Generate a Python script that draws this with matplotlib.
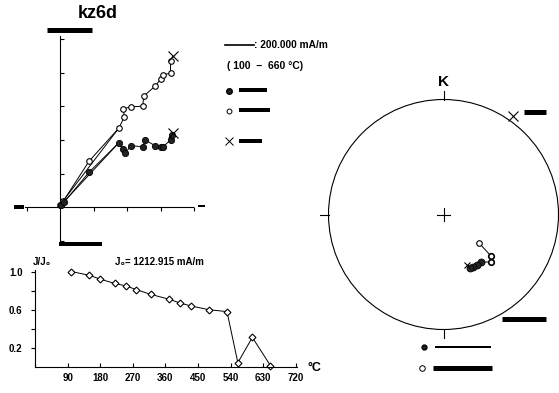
import numpy as np
import matplotlib
matplotlib.use('Agg')
import matplotlib.pyplot as plt
from matplotlib.lines import Line2D
from matplotlib.patches import Circle

plt.rcParams['font.family'] = ['Liberation Sans', 'DejaVu Sans']
plt.rcParams['font.weight'] = 'bold'

# Zijderveld diagram (units = one tick step)
zij_filled_x = [0.02, 0.12, 0.87, 1.75, 1.89, 1.94, 2.12, 2.47, 2.54, 2.84, 3.01, 3.08, 3.30, 3.33]
zij_filled_y = [0.05, 0.14, 1.04, 1.91, 1.72, 1.60, 1.83, 1.80, 2.00, 1.83, 1.80, 1.80, 2.00, 2.15]
zij_open_x = [0.00, 0.10, 0.87, 1.76, 1.92, 1.89, 2.12, 2.47, 2.50, 2.84, 3.01, 3.08, 3.30, 3.30]
zij_open_y = [0.06, 0.18, 1.37, 2.36, 2.69, 2.93, 2.99, 3.01, 3.31, 3.61, 3.82, 3.94, 4.00, 4.36]
zij_end_filled = (3.37, 2.22)
zij_end_open = (3.36, 4.50)

# demagnetisation curve
temps = [100, 150, 180, 220, 250, 280, 320, 370, 400, 430, 480, 530, 560, 600, 650]
j_ratio = [1.00, 0.96, 0.92, 0.875, 0.85, 0.81, 0.76, 0.71, 0.67, 0.64, 0.60, 0.58, 0.045, 0.31, 0.015]
temp_ticks = [0, 90, 180, 270, 360, 450, 540, 630, 720]
temp_labels = ['', '90', '180', '270', '360', '450', '540', '630', '720']
j_ticks = [0.2, 0.4, 0.6, 0.8, 1.0]
j_labels = ['0.2', '', '0.6', '', '1.0']

# stereonet (unit circle coordinates)
st_x = [0.309, 0.413, 0.413, 0.326, 0.291, 0.257, 0.230]
st_y = [-0.248, -0.361, -0.413, -0.413, -0.439, -0.457, -0.465]
st_end = (0.60, 0.86)

W, H = 559, 393
fig = plt.figure(figsize=(W / 100, H / 100), dpi=100)


def box(x0, y0, x1, y1):
    return [x0 / W, 1 - y1 / H, (x1 - x0) / W, (y1 - y0) / H]


def bar(x0, x1, y, th):
    fig.add_artist(Line2D([x0 / W, x1 / W], [1 - y / H, 1 - y / H], transform=fig.transFigure,
                          color='black', lw=th * 0.72, solid_capstyle='butt'))


# ---- Zijderveld ----
s = 33.5
ax = fig.add_axes(box(10, 20, 210, 250))
ax.set_xlim((10 - 60) / s, (210 - 60) / s)
ax.set_ylim((207 - 250) / s, (207 - 20) / s)
ax.patch.set_visible(False)
for sp in ['top', 'right']:
    ax.spines[sp].set_visible(False)
ax.spines['left'].set_position(('data', 0))
ax.spines['bottom'].set_position(('data', 0))
ax.spines['left'].set_bounds((207 - 241) / s, (207 - 36) / s)
ax.spines['bottom'].set_bounds((25 - 60) / s, (193 - 60) / s)
for sp in ['left', 'bottom']:
    ax.spines[sp].set_linewidth(0.8)
ax.set_xticks([-1, 1, 2, 3, 4])
ax.set_yticks([-1, 1, 2, 3, 4, 5])
ax.tick_params(axis='y', direction='in', length=3, width=0.8, labelleft=False)
ax.tick_params(axis='x', direction='out', length=3, width=0.8, labelbottom=False)

ax.plot(zij_open_x + [zij_end_open[0]], zij_open_y + [zij_end_open[1]], color='black', lw=0.7, zorder=2)
ax.plot(zij_filled_x + [zij_end_filled[0]], zij_filled_y + [zij_end_filled[1]], color='black', lw=0.7, zorder=2)
ax.plot([zij_open_x[0], zij_open_x[3]], [zij_open_y[0], zij_open_y[3]], color='black', lw=0.7, zorder=2)
ax.plot([zij_filled_x[0], zij_filled_x[3]], [zij_filled_y[0], zij_filled_y[3]], color='black', lw=0.7, zorder=2)
ax.plot(zij_open_x, zij_open_y, 'o', ms=4, mfc='white', mec='black', mew=0.8, zorder=3)
ax.plot(zij_filled_x, zij_filled_y, 'o', ms=4.5, mfc='#222222', mec='black', mew=0.6, zorder=3)
ax.plot(*zij_end_open, 'x', ms=7, color='black', mew=0.8, zorder=4)
ax.plot(*zij_end_filled, 'x', ms=7, color='black', mew=0.8, zorder=4)

fig.text(98 / W, 1 - 14 / H, 'kz6d', fontsize=13, fontweight='bold', ha='center', va='center')
bar(47, 92, 29.5, 5)
bar(14, 24, 207, 4)
bar(198, 205, 206, 2)
bar(59, 102, 244, 4)

# legend for Zijderveld
fig.add_artist(Line2D([225 / W, 254 / W], [1 - 45 / H, 1 - 45 / H], transform=fig.transFigure,
                      color='black', lw=1.2))
fig.text(254 / W, 1 - 45 / H, ': 200.000 mA/m', fontsize=7.3, fontweight='bold', va='center')
fig.text(227 / W, 1 - 66 / H, '( 100  \u2212  660 \u00b0C)', fontsize=7.5, fontweight='bold', va='center')
fig.add_artist(Line2D([229 / W], [1 - 91 / H], transform=fig.transFigure, marker='o', ms=4,
                      mfc='#222222', mec='black', ls='none'))
fig.add_artist(Line2D([229 / W], [1 - 111 / H], transform=fig.transFigure, marker='o', ms=3.5,
                      mfc='white', mec='black', mew=0.7, ls='none'))
fig.add_artist(Line2D([229 / W], [1 - 141 / H], transform=fig.transFigure, marker='x', ms=6,
                      color='black', mew=0.7, ls='none'))
bar(239, 267, 90, 4)
bar(239, 270, 110, 4)
bar(239, 262, 141, 4)

# ---- demagnetisation curve ----
ax2 = fig.add_axes(box(35, 265, 300, 367))
ax2.set_xlim(0, 265 / (32.6 / 90))
ax2.set_ylim(0, 102 / 95.5)
ax2.patch.set_visible(False)
for sp in ['top', 'right']:
    ax2.spines[sp].set_visible(False)
ax2.spines['left'].set_bounds(0, 1.02)
ax2.spines['bottom'].set_bounds(0, 724)
for sp in ['left', 'bottom']:
    ax2.spines[sp].set_linewidth(0.8)
ax2.set_xticks(temp_ticks)
ax2.set_xticklabels(temp_labels)
ax2.set_yticks(j_ticks)
ax2.set_yticklabels(j_labels)
ax2.tick_params(axis='x', direction='in', length=3, width=0.8, pad=4, labelsize=7)
ax2.tick_params(axis='y', direction='out', length=3, width=0.8, pad=6, labelsize=7)
for lab in ax2.get_xticklabels() + ax2.get_yticklabels():
    lab.set_fontweight('bold')
ax2.plot(temps, j_ratio, color='black', lw=0.7, marker='D', ms=3.5, mfc='white', mec='black',
         mew=0.8, clip_on=False)
fig.text(33 / W, 1 - 262 / H, 'J/J\u2080', fontsize=7, fontweight='bold', va='center')
fig.text(115 / W, 1 - 262 / H, 'J\u2080= 1212.915 mA/m', fontsize=7, fontweight='bold', va='center')
fig.text(307 / W, 1 - 368 / H, '\u00b0C', fontsize=9, fontweight='bold', ha='left', va='center')

# ---- stereonet ----
r = 115
ax3 = fig.add_axes(box(443.5 - 125, 214.5 - 125, 443.5 + 125, 214.5 + 125))
ax3.set_xlim(-125 / r, 125 / r)
ax3.set_ylim(-125 / r, 125 / r)
ax3.axis('off')
ax3.add_patch(Circle((0, 0), 1, fill=False, ec='black', lw=0.8))
for dx, dy in [(0, 1), (0, -1), (-1, 0), (1, 0)]:
    ax3.plot([dx, dx * 1.07], [dy, dy * 1.07], color='black', lw=0.8, clip_on=False)
ax3.plot([-0.06, 0.06], [0, 0], color='black', lw=0.8)
ax3.plot([0, 0], [-0.06, 0.06], color='black', lw=0.8)
ax3.text(0, 1.15, 'K', fontsize=11, fontweight='bold', ha='center', va='center')
ax3.plot(st_x, st_y, color='black', lw=0.7)
ax3.plot(st_x[0], st_y[0], 'o', ms=4, mfc='white', mec='black', mew=0.8)
ax3.plot(st_x[1:3], st_y[1:3], 'o', ms=4, mfc='white', mec='black', mew=1.2)
ax3.plot(st_x[3:], st_y[3:], 'o', ms=5, mfc='#222222', mec='black', mew=0.6)
ax3.plot(st_x[-1] - 0.03, st_y[-1] + 0.03, 'x', ms=5, color='black', mew=0.8)
ax3.plot(*st_end, 'x', ms=7, color='black', mew=0.8, clip_on=False)

bar(524, 546, 112, 5)
bar(502, 546, 319, 5)
bar(435, 491, 347, 2)
bar(433, 492, 368, 5)
fig.add_artist(Line2D([424 / W], [1 - 347 / H], transform=fig.transFigure, marker='o', ms=3.5,
                      mfc='#222222', mec='black', ls='none'))
fig.add_artist(Line2D([422 / W], [1 - 368 / H], transform=fig.transFigure, marker='o', ms=4,
                      mfc='white', mec='black', mew=0.7, ls='none'))

fig.savefig('out.png', dpi=100)
